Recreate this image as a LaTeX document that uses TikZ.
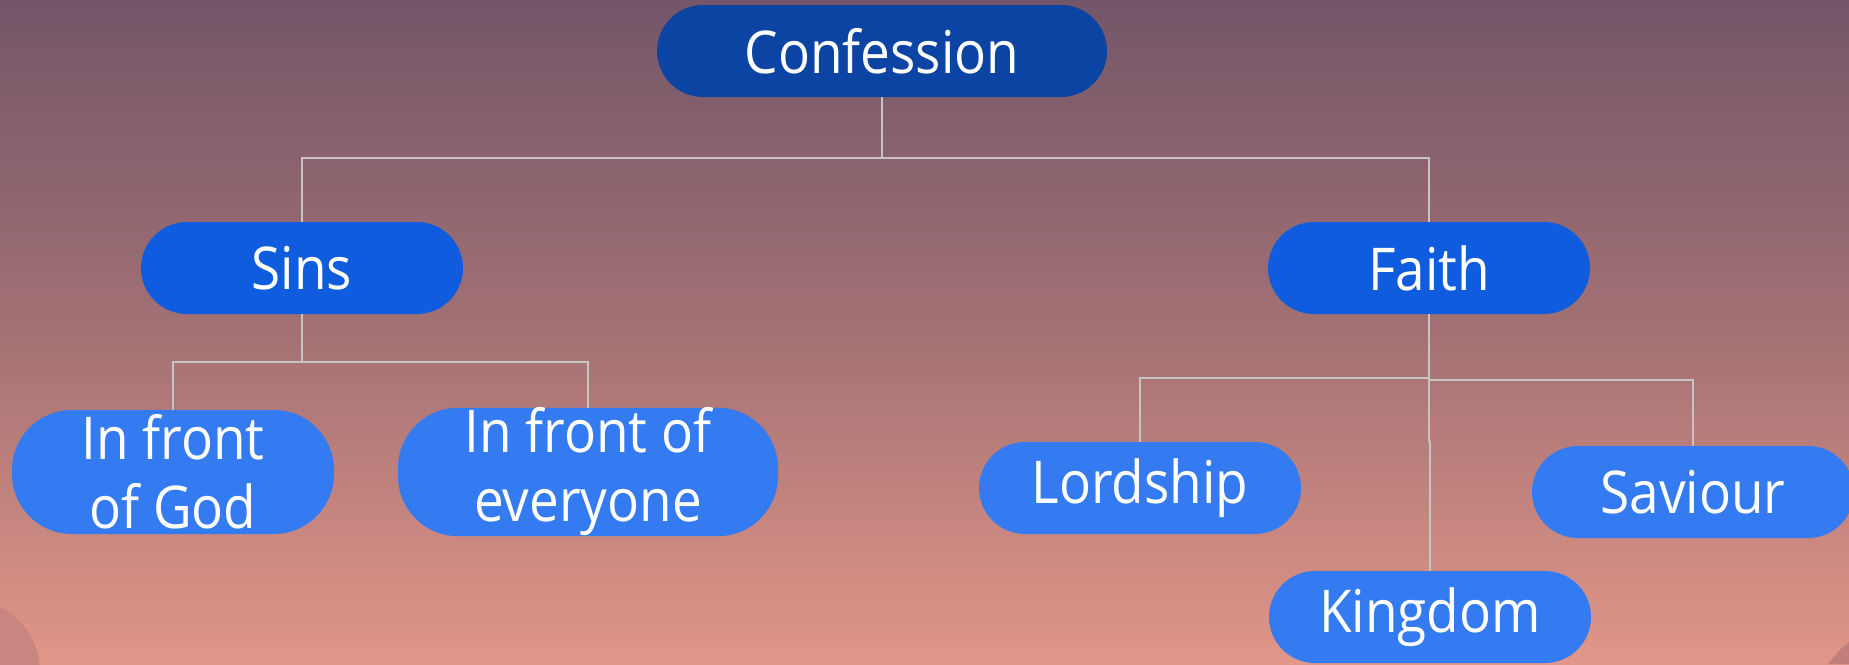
\documentclass[tikz,border=0pt]{standalone}
\usepackage{fontspec}
\setmainfont[FakeStretch=0.9]{Open Sans}
\usetikzlibrary{positioning}
\definecolor{bgtop}{HTML}{735668}
\definecolor{bgmid}{HTML}{A37174}
\definecolor{bgbot}{HTML}{E19688}
\definecolor{cone}{HTML}{0C44A4}
\definecolor{ctwo}{HTML}{0F5DDE}
\definecolor{cthree}{HTML}{347BF2}
\definecolor{linec}{HTML}{C9C4C4}
\definecolor{decoa}{HTML}{C9857F}
\definecolor{decob}{HTML}{C27F7A}
\tikzset{
  pill/.style={draw=none, text=white, inner sep=0pt, align=center,
    font=\fontsize{59}{69}\selectfont, minimum height=92pt, rounded corners=46pt},
  lvlzero/.style={pill, fill=cone, minimum width=450pt},
  lvlone/.style={pill, fill=ctwo, minimum width=322pt},
  lvltwo/.style={pill, fill=cthree, minimum width=322pt},
  tall/.style={minimum height=124pt, rounded corners=60pt},
  conn/.style={draw=linec, line width=1.6pt}
}
\begin{document}
\begin{tikzpicture}[x=1pt,y=-1pt]
\useasboundingbox (0,0) rectangle (1849,664);
\shade[top color=bgtop, bottom color=bgbot, middle color=bgmid] (0,0) rectangle (1849,664);
\fill[decoa] (-33,672) circle (73pt);
\fill[decob] (1828,664) .. controls (1835,655) and (1842,647) .. (1849,642) -- (1849,664) -- cycle;

\node[lvlzero] (conf) at (882,51) {Confession};
\node[lvlone] (sins) at (302,268) {Sins};
\node[lvlone] (faith) at (1429,268) {Faith};
\node[lvltwo, tall] (god) at (173,472) {In front\\of God};
\node[lvltwo, tall, minimum width=380pt] (every) at (588,472) {In front of\\everyone};
\node[lvltwo] (lord) at (1140,488) {Lordship};
\node[lvltwo] (sav) at (1693,492) {Saviour};
\node[lvltwo] (king) at (1430,617) {Kingdom};

\coordinate (cj) at (882,158);
\coordinate (sj) at (302,362);
\coordinate (fja) at (1429,378);
\coordinate (fjb) at (1429,380);
\coordinate (fjc) at (1429,442);

\draw[conn] (conf.south) -- (cj);
\draw[conn] (cj) -| (sins.north);
\draw[conn] (cj) -| (faith.north);
\draw[conn] (sins.south) -- (sj);
\draw[conn] (sj) -| (god.north);
\draw[conn] (sj) -| (every.north);
\draw[conn] (faith.south) -- (fjc);
\draw[conn] (fjc) -| (king.north);
\draw[conn] (fja) -| (lord.north);
\draw[conn] (fjb) -| (sav.north);
\end{tikzpicture}
\end{document}
